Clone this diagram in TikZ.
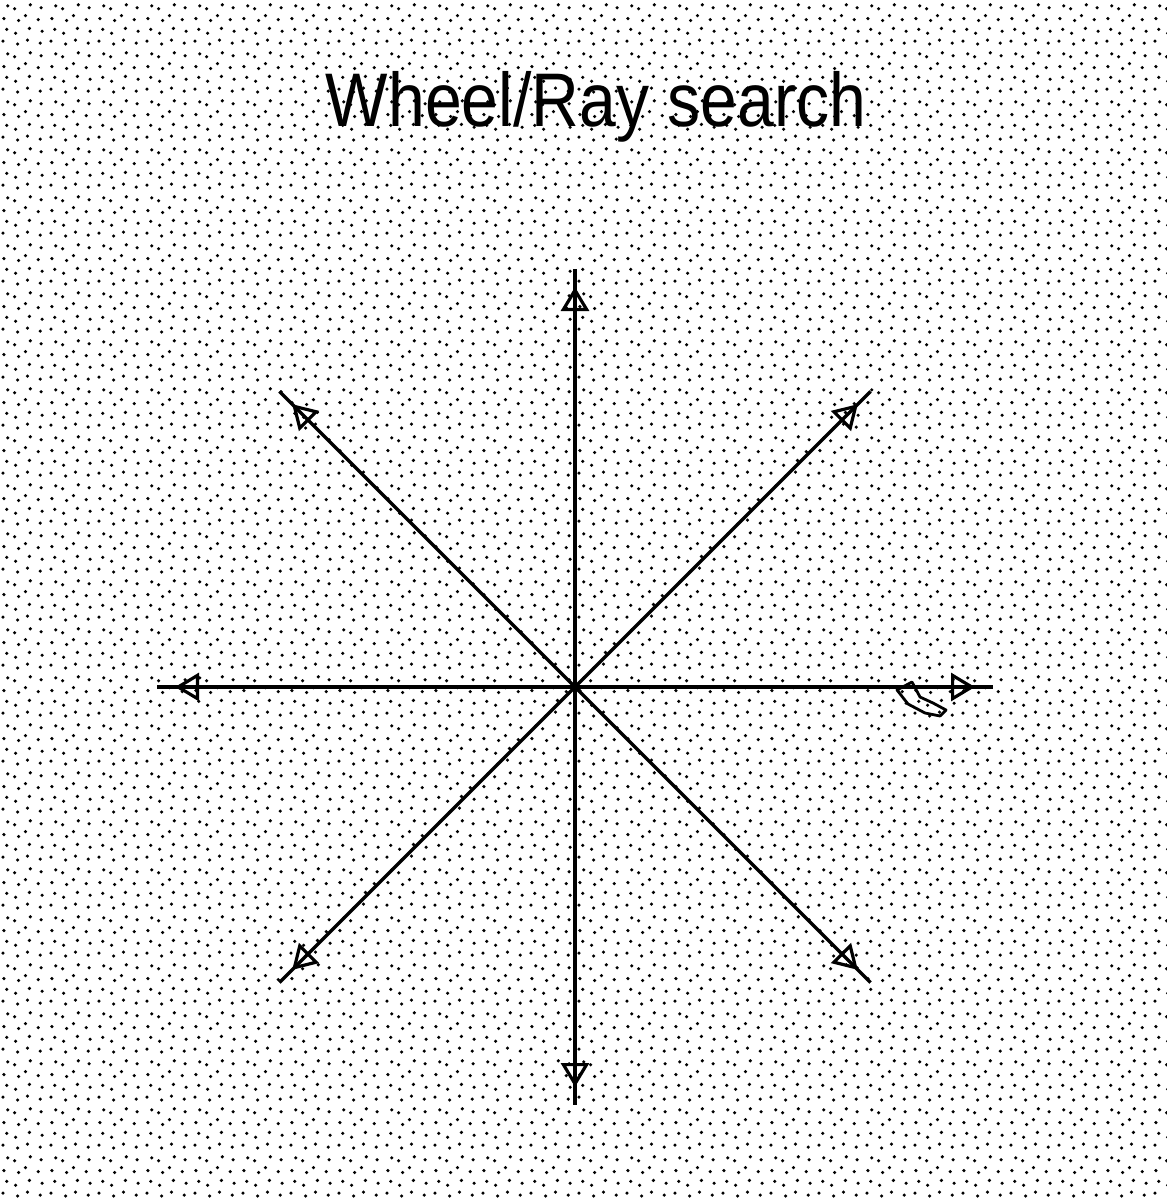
\documentclass[tikz,border=0pt]{standalone}
\usepackage{fontspec}
\setmainfont{Liberation Sans}
\usetikzlibrary{patterns.meta,decorations.markings,arrows.meta,calc}

\tikzdeclarepattern{
  name=stipple,
  type=uncolored,
  bounding box={(0pt,0pt) and (24pt,24pt)},
  tile size={(24pt,24pt)},
  code={
    \foreach \a/\b in {2/3.5, 9.5/2, 14.5/4, 21/2.5,
                       4/9.5, 8.5/7.5, 15.5/10, 22/8.5,
                       2.5/15, 10/14, 13.5/16.5, 20/14.5,
                       4.5/21.5, 8/20, 16/22, 21.5/20.5}{
      \pgfpathcircle{\pgfpoint{\a pt}{\b pt}}{0.9pt}
    }
    \pgfusepath{fill}
  }
}

\tikzset{
  ray/.style={line width=1.7pt, black,
    postaction={decorate},
    decoration={markings,
      mark=at position -9pt with {\arrow{Triangle[open, length=12pt, width=14pt, line width=1.6pt]}}}},
  titletext/.style={font=\fontsize{38}{40}\selectfont, xscale=0.87, anchor=base, inner sep=0pt},
  glitch/.style={line width=1.4pt, black, line join=round}
}

\begin{document}
\begin{tikzpicture}[x=0.5pt, y=-0.5pt]
  \path[use as bounding box] (0,0) rectangle (1167,1200);
  \fill[white] (0,0) rectangle (1167,1200);
  \fill[pattern=stipple, pattern color=black] (0,0) rectangle (1167,1200);

  \node[titletext] (title) at (596,126) {Wheel/Ray search};

  \coordinate (c) at (575,687);
  \foreach \ang [count=\i] in {0,45,...,315}{
    \coordinate (e\i) at ($(c)+(\ang:418)$);
    \draw[ray] (c) -- (e\i);
  }

  \draw[glitch] (897,690) -- (912,682) -- (920,697) -- (933,703) -- (946,710)
        -- (940,716) -- (925,713) -- (908,704) -- cycle;
\end{tikzpicture}
\end{document}
